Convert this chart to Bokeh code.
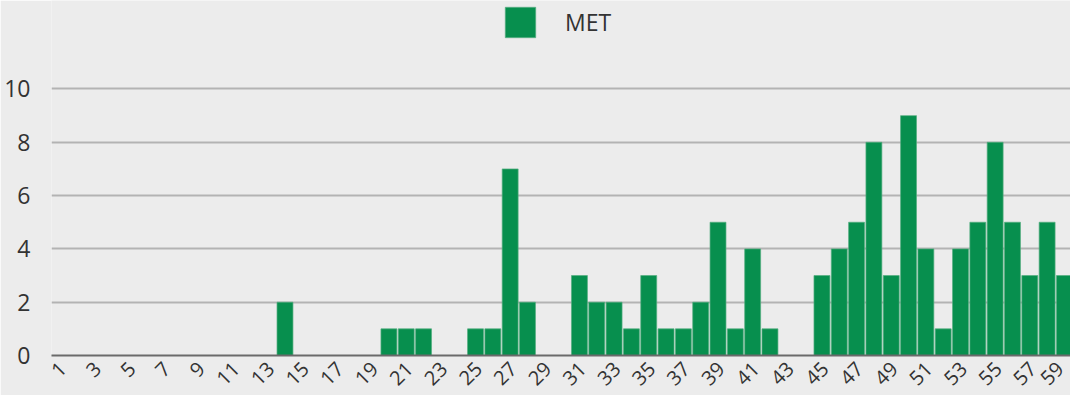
import math
from bokeh.plotting import figure
from bokeh.models import FixedTicker, Range1d, Legend, LegendItem, ColumnDataSource
from bokeh.embed import file_html
from bokeh.resources import INLINE

# ---- data ----
categories = list(range(1, 61))
met_values = [0, 0, 0, 0, 0, 0, 0, 0, 0, 0,
              0, 0, 0, 2, 0, 0, 0, 0, 0, 1,
              1, 1, 0, 0, 1, 1, 7, 2, 0, 0,
              3, 2, 2, 1, 3, 1, 1, 2, 5, 1,
              4, 1, 0, 0, 3, 4, 5, 8, 3, 9,
              4, 1, 4, 5, 8, 5, 3, 5, 3, 0]
x_tick_values = list(range(1, 60, 2))
x_tick_labels = [str(k) for k in x_tick_values]
y_ticks = [0, 2, 4, 6, 8, 10]
series_name = "MET"

BG = "#ececec"
BAR = "#078f4e"
FONT = "Open Sans"
TXT = "#333333"

src = ColumnDataSource(dict(x=categories, top=met_values))

p = figure(width=1070, height=395, output_backend="svg", toolbar_location=None,
           x_range=Range1d(0.52, 59.35), y_range=Range1d(0, 13.32))
p.background_fill_color = BG
p.border_fill_color = BG
p.outline_line_color = None
p.min_border_top = 0
p.min_border_right = 0
p.min_border_left = 51
p.min_border_bottom = 40

r = p.vbar(x="x", top="top", width=0.92, source=src, fill_color=BAR,
           line_color="#55ad80", line_width=0.7)

# y axis
ya = p.yaxis[0]
ya.ticker = FixedTicker(ticks=y_ticks)
ya.axis_line_color = None
ya.major_tick_line_color = None
ya.minor_tick_line_color = None
ya.major_label_text_font = FONT
ya.major_label_text_font_size = "23px"
ya.major_label_text_color = TXT
ya.major_label_standoff = 15

# x axis (slanted labels, nudged so their ends sit right of the bar centres;
# the last one is pulled in so that it stays inside the figure)
xa = p.xaxis[0]
label_shift = 0.18
tick_pos = [k + label_shift for k in x_tick_values[:-1]] + [x_tick_values[-1] - 0.25]
xa.ticker = FixedTicker(ticks=tick_pos)
xa.major_label_overrides = {t: lab for t, lab in zip(tick_pos, x_tick_labels)}
xa.axis_line_color = "#6a6a6a"
xa.axis_line_width = 2
xa.major_tick_line_color = None
xa.minor_tick_line_color = None
xa.major_label_text_font = FONT
xa.major_label_text_font_size = "20px"
xa.major_label_text_color = TXT
xa.major_label_orientation = math.pi / 4
xa.major_label_standoff = 4

p.xgrid.grid_line_color = None
p.ygrid.ticker = FixedTicker(ticks=y_ticks)
p.ygrid.grid_line_color = "#b3b3b3"
p.ygrid.grid_line_width = 2

legend = Legend(items=[LegendItem(label=series_name, renderers=[r])],
                location=(450, 314), orientation="horizontal",
                glyph_width=38, glyph_height=38, label_standoff=26,
                padding=0, margin=0, spacing=0,
                background_fill_alpha=0, border_line_color=None,
                label_text_font=FONT, label_text_font_size="23px",
                label_text_color=TXT, label_height=38)
p.add_layout(legend)

open("out.html", "w").write(file_html(p, INLINE))
